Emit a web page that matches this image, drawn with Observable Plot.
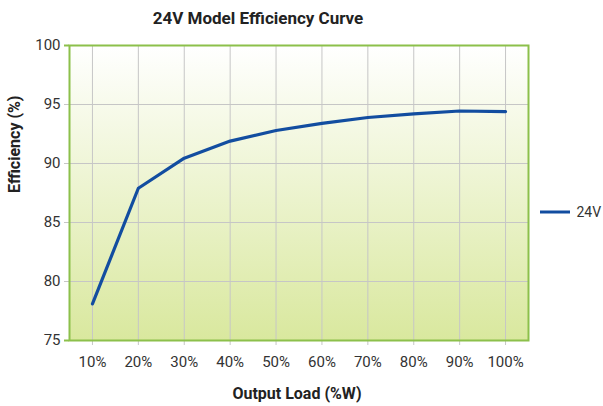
<!DOCTYPE html>
<html>
<head>
<meta charset="utf-8">
<script src="https://cdn.jsdelivr.net/npm/d3@7"></script>
<script src="https://cdn.jsdelivr.net/npm/@observablehq/plot@0.6"></script>
<style>
  html, body { margin: 0; padding: 0; background: #fff; }
  #chart svg { display: block; }
</style>
</head>
<body>
<div id="chart"></div>
<script>
// ---- data ----
const title = "24V Model Efficiency Curve";
const xLabel = "Output Load (%W)";
const yLabel = "Efficiency (%)";
const loads = ["10%", "20%", "30%", "40%", "50%", "60%", "70%", "80%", "90%", "100%"];
const eff24V = [78.1, 87.9, 90.45, 91.9, 92.8, 93.4, 93.9, 94.2, 94.45, 94.4];
const yTicks = [75, 80, 85, 90, 95, 100];
const seriesName = "24V";

// ---- styles ----
const green = "#8cc04b";
const gridGrey = "#c6c6c6";
const lineBlue = "#124da0";
const font = "Roboto, 'Open Sans', sans-serif";

const rows = loads.map((l, i) => ({load: l, eff: eff24V[i]}));

const chart = Plot.plot({
  width: 603,
  height: 406,
  marginTop: 45,
  marginBottom: 66,
  marginLeft: 69,
  marginRight: 75,
  style: {fontFamily: font, fontSize: "15px", color: "#333", background: "#fff", overflow: "visible"},
  x: {type: "point", domain: loads, padding: 0.5, round: false},
  y: {domain: [75, 100]},
  marks: [
    Plot.frame({fill: "url(#bgGrad)", stroke: "none"}),
    Plot.gridX(loads, {stroke: gridGrey, strokeOpacity: 1, strokeWidth: 1}),
    Plot.gridY([80, 85, 90, 95], {stroke: gridGrey, strokeOpacity: 1, strokeWidth: 1}),
    Plot.axisX({tickSize: 5, tickPadding: 11, stroke: gridGrey, fontSize: 15, fill: "#333", label: null}),
    Plot.axisY({ticks: yTicks, tickSize: 5, tickPadding: 4, stroke: gridGrey, fontSize: 15, fill: "#333",
      label: null}),
    Plot.axisY({ticks: [75, 100], tickSize: 5, stroke: green, strokeWidth: 2, fill: "none", label: null}),
    Plot.frame({stroke: green, strokeWidth: 2}),
    Plot.line(rows, {x: "load", y: "eff", stroke: lineBlue, strokeWidth: 3.2, strokeLinejoin: "round"}),
    Plot.text([title], {frameAnchor: "top", dx: -41, dy: -27, text: d => d, fontSize: 17,
      fontWeight: "bold", fill: "#222", lineAnchor: "middle"}),
    Plot.text([xLabel], {frameAnchor: "bottom", dx: -2, dy: 53, text: d => d, fontSize: 16,
      fontWeight: "bold", fill: "#222", lineAnchor: "middle"}),
    Plot.text([yLabel], {frameAnchor: "left", dx: -55, text: d => d, rotate: -90, fontSize: 16,
      fontWeight: "bold", fill: "#222", lineAnchor: "middle"}),
    Plot.text([seriesName], {frameAnchor: "right", dx: 48, dy: 20, text: d => d, fontSize: 14,
      fill: "#333", textAnchor: "start", lineAnchor: "middle"})
  ]
});

// gradient definition for the plot background
const svg = d3.select(chart);
const defs = svg.insert("defs", ":first-child");
const grad = defs.append("linearGradient").attr("id", "bgGrad")
  .attr("x1", 0).attr("y1", 0).attr("x2", 0).attr("y2", 1);
grad.append("stop").attr("offset", "0%").attr("stop-color", "#ffffff");
grad.append("stop").attr("offset", "100%").attr("stop-color", "#d9e89e");

// legend swatch line
svg.append("line")
  .attr("x1", 540).attr("x2", 570)
  .attr("y1", 212).attr("y2", 212)
  .attr("stroke", lineBlue).attr("stroke-width", 3);

document.getElementById("chart").appendChild(chart);
</script>
</body>
</html>
